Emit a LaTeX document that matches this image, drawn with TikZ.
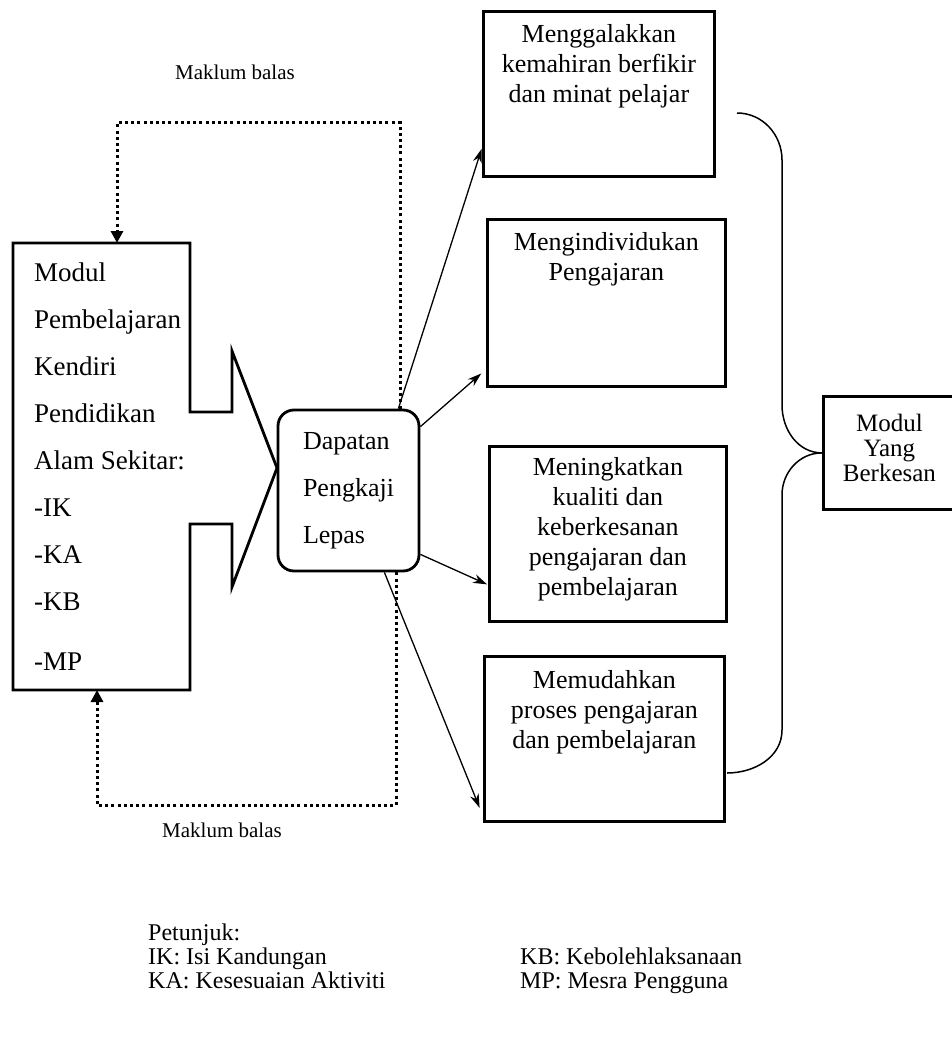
\documentclass[tikz,border=0pt]{standalone}
\usepackage{fontspec}
\setmainfont{Liberation Serif}
\usetikzlibrary{arrows.meta,positioning}

\begin{document}
\begin{tikzpicture}[x=1pt, y=-1pt,
  box/.style={draw, line width=2.8pt, inner sep=0pt, anchor=north west},
  roundbox/.style={draw, line width=2.8pt, rounded corners=16pt, inner sep=0pt,
    minimum width=141pt, minimum height=161pt, align=left,
    font=\fontsize{26}{47}\selectfont},
  goaltxt/.style={inner sep=0pt, anchor=north, align=center,
    font=\fontsize{26}{30}\selectfont},
  lefttxt/.style={inner sep=0pt, anchor=north west, align=left,
    font=\fontsize{27}{47}\selectfont},
  fbtxt/.style={inner sep=0pt, font=\fontsize{21}{24}\selectfont},
  legend/.style={inner sep=0pt, anchor=north west, align=left,
    font=\fontsize{24}{24}\selectfont},
  feedback/.style={line width=3pt, dash pattern=on 3pt off 3.2pt,
    -{Triangle[length=12pt,width=12pt]}},
  flow/.style={line width=1.3pt, -{Stealth[length=14pt,width=9pt]}, shorten >=1pt}]

  \useasboundingbox (0,0) rectangle (952,1038);

  %% module block with the big arrow
  \draw[line width=2.8pt, line join=miter]
    (13,243) -- (190,243) -- (190,412) -- (232,412) -- (232,351)
    -- (277,468) -- (232,587) -- (232,524) -- (190,524) -- (190,690)
    -- (13,690) -- cycle;
  \node[lefttxt] (modultxt) at (34,263)
    {Modul\\Pembelajaran\\Kendiri\\Pendidikan\\Alam Sekitar:\\-IK\\-KA\\-KB\\[13pt]-MP};
  \coordinate (modtop) at (117,243);
  \coordinate (modbot) at (97,690);
  \coordinate (fbup) at (117,123);
  \coordinate (fbdown) at (97,805);

  \node[roundbox] (dapatan) at (348.5,490.5) {Dapatan\\Pengkaji\\Lepas};

  \node[box, minimum width=231pt, minimum height=165pt] (goal1) at (482,10) {};
  \node[goaltxt] (goal1txt) at ([yshift=-14pt]goal1.north)
    {Menggalakkan\\kemahiran berfikir\\dan minat pelajar};
  \node[box, minimum width=238pt, minimum height=167pt] (goal2) at (486,218) {};
  \node[goaltxt] (goal2txt) at ([yshift=-14pt]goal2.north)
    {Mengindividukan\\Pengajaran};
  \node[box, minimum width=237pt, minimum height=175pt] (goal3) at (488,445) {};
  \node[goaltxt] (goal3txt) at ([yshift=-12pt]goal3.north)
    {Meningkatkan\\kualiti dan\\keberkesanan\\pengajaran dan\\pembelajaran};
  \node[box, minimum width=240pt, minimum height=165pt] (goal4) at (483,655) {};
  \node[goaltxt] (goal4txt) at ([yshift=-15pt]goal4.north)
    {Memudahkan\\proses pengajaran\\dan pembelajaran};

  \node[box, minimum width=140pt, minimum height=113pt] (result) at (822,395) {};
  \node[inner sep=0pt, align=center, font=\fontsize{25}{25}\selectfont]
    (resulttxt) at ([xshift=-4pt,yshift=5pt]result.center) {Modul\\Yang\\Berkesan};

  %% feedback loops
  \node[fbtxt] (fbtoptxt) at (235,72) {Maklum balas};
  \node[fbtxt] (fbbottxt) at (222,830) {Maklum balas};
  \draw[feedback] ([xshift=-20pt]dapatan.north east) |- (fbup) -- (modtop);
  \draw[feedback] ([xshift=-24pt]dapatan.south east) |- (fbdown) -- (modbot);

  %% dapatan -> goals
  \draw[flow] ([xshift=-22pt]dapatan.north east) -- ([yshift=30pt]goal1.south west);
  \draw[flow] ([yshift=-18pt]dapatan.north east) -- ([xshift=-4pt,yshift=15pt]goal2.south west);
  \draw[flow] ([yshift=18pt]dapatan.south east) -- ([yshift=38pt]goal3.south west);
  \draw[flow] ([xshift=-36pt]dapatan.south east) -- ([xshift=-3pt,yshift=14pt]goal4.south west);

  %% brace to result
  \coordinate (bracetop) at (737,113);
  \coordinate (bracebot) at (727,773);
  \draw[line width=1.5pt] (bracetop) to[out=0,in=90] (782,160) -- (782,405)
    to[out=-90,in=180] (result.west);
  \draw[line width=1.5pt] (result.west) to[out=180,in=90] (782,495) -- (782,730)
    to[out=-90,in=0] (bracebot);

  %% legend
  \node[legend] (petunjuk) at (148,924)
    {Petunjuk:\\IK: Isi Kandungan\\KA: Kesesuaian Aktiviti};
  \node[legend] (legendkb) at (520,948)
    {KB: Kebolehlaksanaan\\MP: Mesra Pengguna};
\end{tikzpicture}
\end{document}
